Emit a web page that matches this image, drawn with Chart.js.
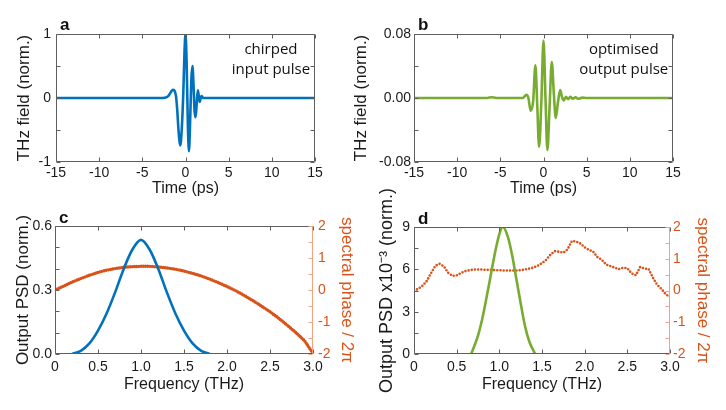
<!DOCTYPE html>
<html>
<head>
<meta charset="utf-8">
<script src="https://cdn.jsdelivr.net/npm/chart.js@4.4.1/dist/chart.umd.min.js"></script>
<style>
  html, body { margin: 0; padding: 0; background: #fff; }
  #wrap { position: relative; width: 726px; height: 410px; overflow: hidden; }
  canvas { position: absolute; }
</style>
</head>
<body>
<div id="wrap">
  <canvas id="panel-a" width="345" height="205" style="left:0;top:0"></canvas>
  <canvas id="panel-b" width="381" height="205" style="left:345px;top:0"></canvas>
  <canvas id="panel-c" width="363" height="205" style="left:0;top:205px"></canvas>
  <canvas id="panel-d" width="381" height="225" style="left:345px;top:185px"></canvas>
</div>
<script>
const FONT   = "'Liberation Sans', Arial, Helvetica, sans-serif";
const INK    = '#1a1a1a';
const BOX    = '#5e5e5e';
const BLUE   = '#0072BD';
const GREEN  = '#77AC30';
const ORANGE = '#D95319';
const ORANGE_AXIS = '#F2A27C';

// ── Data ───────────────────────────────────────────────────────────────────

// a: chirped input pulse
const timeA  = [-15, -3, -2.4, -2.0, -1.7, -1.45, -1.3, -1.1, -0.95, -0.8, -0.6, -0.42, -0.25, -0.12, 0,
                0.13, 0.27, 0.4, 0.55, 0.68, 0.8, 0.93, 1.05, 1.17, 1.3, 1.43, 1.55, 1.65, 1.77, 1.88, 2.05, 2.3, 15];
const fieldA = [0, 0, 0.005, 0.03, 0.09, 0.13, 0.12, 0.03, -0.2, -0.52, -0.74, -0.45, 0.1, 0.7, 1.0,
                0.55, -0.4, -0.83, -0.3, 0.3, 0.5, 0.2, -0.2, -0.3, -0.08, 0.12, 0.02, -0.06, 0.01, 0.03, 0, 0, 0];

// b: optimised output pulse
const timeB  = [-15, -6.5, -6, -5.5, -2.4, -1.98, -1.75, -1.48, -1.2, -0.94, -0.72, -0.51, -0.25, 0,
                0.23, 0.45, 0.7, 0.96, 1.2, 1.42, 1.68, 1.93, 2.15, 2.35, 2.6, 2.85, 3.1, 3.4, 3.7, 4.0, 4.5, 5, 15];
const fieldB = [0, 0, 0.001, 0, 0, 0.004, 0.0, -0.016, -0.004, 0.041, -0.01, -0.061, -0.005, 0.0717,
                0.0, -0.065, -0.012, 0.045, 0.005, -0.025, -0.005, 0.01, 0.001, -0.003, 0.0015, -0.0015, 0.0015, -0.001, 0.001, -0.001, 0.0005, 0, 0];

// c: input spectrum and phase
const freqC = [0.2, 0.3, 0.4, 0.5, 0.6, 0.7, 0.8, 0.9, 1.0, 1.1, 1.2, 1.3, 1.4, 1.5, 1.6, 1.7, 1.8];
const psdC  = [0, 0.015, 0.05, 0.11, 0.19, 0.29, 0.40, 0.49, 0.535, 0.49, 0.40, 0.29, 0.19, 0.11, 0.05, 0.015, 0];
const phaseFreqC = [0, 0.1, 0.2, 0.3, 0.4, 0.5, 0.6, 0.7, 0.8, 0.9, 1.0, 1.1, 1.2, 1.3, 1.4, 1.5,
                    1.6, 1.7, 1.8, 1.9, 2.0, 2.1, 2.2, 2.3, 2.4, 2.5, 2.6, 2.7, 2.8, 2.9, 3.0];
const phaseC = [0, 0.12, 0.25, 0.36, 0.46, 0.55, 0.62, 0.67, 0.71, 0.73, 0.74, 0.74, 0.72, 0.69, 0.65, 0.59,
                0.52, 0.44, 0.34, 0.23, 0.11, -0.02, -0.17, -0.33, -0.5, -0.68, -0.88, -1.1, -1.33, -1.58, -1.98];

// d: output spectrum and phase
const freqD = [0.67, 0.75, 0.8, 0.85, 0.9, 0.95, 1.0, 1.04, 1.1, 1.15, 1.2, 1.25, 1.3, 1.35, 1.42];
const psdD  = [0, 1.3, 2.5, 4.0, 5.6, 7.2, 8.5, 9.0, 8.3, 7.0, 5.3, 3.6, 2.0, 0.9, 0];
const phaseFreqD = [0, 0.05, 0.1, 0.15, 0.2, 0.25, 0.3, 0.35, 0.4, 0.45, 0.5, 0.55, 0.6, 0.65, 0.7, 0.75,
                    0.8, 0.85, 0.9, 0.95, 1.0, 1.05, 1.1, 1.15, 1.2, 1.25, 1.3, 1.35, 1.4, 1.45, 1.5, 1.55,
                    1.6, 1.65, 1.7, 1.75, 1.8, 1.85, 1.9, 1.95, 2.0, 2.05, 2.1, 2.15, 2.2, 2.25, 2.3, 2.35,
                    2.4, 2.45, 2.5, 2.55, 2.6, 2.65, 2.7, 2.75, 2.8, 2.85, 2.9, 2.95, 3.0];
const phaseD = [0, 0.05, 0.15, 0.3, 0.55, 0.78, 0.84, 0.76, 0.56, 0.46, 0.48, 0.55, 0.61, 0.64, 0.66, 0.66,
                0.66, 0.65, 0.65, 0.64, 0.64, 0.63, 0.63, 0.63, 0.63, 0.64, 0.66, 0.69, 0.72, 0.78, 0.86, 0.97,
                1.13, 1.24, 1.22, 1.19, 1.3, 1.56, 1.54, 1.48, 1.36, 1.28, 1.22, 1.05, 0.97, 0.82, 0.77, 0.72,
                0.67, 0.72, 0.7, 0.54, 0.48, 0.74, 0.69, 0.68, 0.4, 0.18, 0.05, -0.12, -0.2];

// ── Ticks ──────────────────────────────────────────────────────────────────

const timeTicks       = [-15, -10, -5, 0, 5, 10, 15];
const timeTickLabels  = ['-15', '-10', '-5', '0', '5', '10', '15'];
const fieldTicksA     = [-1, -0.5, 0, 0.5, 1];
const fieldLabelsA    = ['-1', '', '0', '', '1'];
const fieldTicksB     = [-0.08, -0.04, 0, 0.04, 0.08];
const fieldLabelsB    = ['-0.08', '', '0.00', '', '0.08'];
const freqTicks       = [0, 0.5, 1, 1.5, 2, 2.5, 3];
const freqTickLabels  = ['0', '0.5', '1.0', '1.5', '2.0', '2.5', '3.0'];
const psdTicksC       = [0, 0.1, 0.2, 0.3, 0.4, 0.5, 0.6];
const psdLabelsC      = ['0.0', '', '', '0.3', '', '', '0.6'];
const psdTicksD       = [0, 1.5, 3, 4.5, 6, 7.5, 9];
const psdLabelsD      = ['0', '', '3', '', '6', '', '9'];
const phaseTicks      = [-2, -1.5, -1, -0.5, 0, 0.5, 1, 1.5, 2];
const phaseTickLabels = ['-2', '', '-1', '', '0', '', '1', '', '2'];

// ── Helpers ────────────────────────────────────────────────────────────────

const pts = (xs, ys) => xs.map((x, i) => ({ x, y: ys[i] }));

function line(ctx, x1, y1, x2, y2) {
  ctx.beginPath(); ctx.moveTo(x1, y1); ctx.lineTo(x2, y2); ctx.stroke();
}

// box, inward ticks, panel letter and note
const deco = {
  id: 'deco',
  afterDatasetsDraw(chart, args, o) {
    const { ctx, chartArea: a, scales } = chart;
    const L = a.left + 0.5, R = a.right - 0.5, T = a.top + 0.5, B = a.bottom - 0.5;
    const len = 4;
    ctx.save();
    ctx.lineWidth = 1;
    ctx.strokeStyle = BOX;
    scales.x.ticks.forEach(t => {
      const p = Math.round(scales.x.getPixelForValue(t.value)) + 0.5;
      line(ctx, p, B, p, B - len);
      line(ctx, p, T, p, T + len);
    });
    scales.y.ticks.forEach(t => {
      const p = Math.round(scales.y.getPixelForValue(t.value)) + 0.5;
      line(ctx, L, p, L + len, p);
      if (!scales.y2) line(ctx, R, p, R - len, p);
    });
    line(ctx, L, T, R, T);
    line(ctx, L, B, R, B);
    line(ctx, L, T, L, B);
    if (scales.y2) {
      ctx.strokeStyle = ORANGE_AXIS;
      scales.y2.ticks.forEach(t => {
        const p = Math.round(scales.y2.getPixelForValue(t.value)) + 0.5;
        line(ctx, R, p, R - len, p);
      });
    }
    line(ctx, R, T, R, B);
    ctx.restore();
  },
  afterDraw(chart, args, o) {
    const { ctx, chartArea: a } = chart;
    ctx.save();
    ctx.fillStyle = '#111';
    ctx.font = `bold 17px ${FONT}`;
    ctx.textAlign = 'left';
    ctx.textBaseline = 'alphabetic';
    ctx.fillText(o.letter, a.left + 4, a.top - o.letterGap);
    if (o.note) {
      ctx.font = "15px 'Open Sans', sans-serif";
      ctx.textAlign = 'center';
      const cx = a.left + o.noteX * (a.right - a.left);
      o.note.forEach((s, i) => ctx.fillText(s, cx, a.top + 20 + i * 20));
    }
    ctx.restore();
  },
};

function yAxis(position, ticks, labels, color, title, geom) {
  return {
    type: 'linear', position,
    min: ticks[0], max: ticks[ticks.length - 1],
    afterBuildTicks: s => { s.ticks = ticks.map(v => ({ value: v })); },
    afterFit: s => { s.width = geom.width; },
    ticks: {
      autoSkip: false, padding: geom.pad, color,
      font: { family: FONT, size: 14 },
      callback: (v, i) => labels[i],
    },
    grid: { display: false, drawTicks: false },
    border: { display: false },
    title: {
      display: true, text: title, color,
      font: { family: FONT, size: geom.tsize || 17, lineHeight: 1 },
      padding: { top: geom.tpad, bottom: 0 },
    },
  };
}

function xAxis(ticks, labels, title, geom) {
  return {
    type: 'linear',
    min: ticks[0], max: ticks[ticks.length - 1],
    afterBuildTicks: s => { s.ticks = ticks.map(v => ({ value: v })); },
    afterFit: s => { s.height = geom.height; },
    ticks: {
      autoSkip: false, maxRotation: 0, padding: geom.pad, color: INK,
      font: { family: FONT, size: 14 },
      callback: (v, i) => labels[i],
    },
    grid: { display: false, drawTicks: false },
    border: { display: false },
    title: {
      display: true, text: title, color: INK,
      font: { family: FONT, size: 16, lineHeight: 1 },
      padding: { top: 0, bottom: geom.tpad },
    },
  };
}

function makeChart(id, datasets, scales, padding, decoOpts) {
  new Chart(document.getElementById(id), {
    type: 'line',
    data: { datasets },
    options: {
      responsive: false, animation: false, events: [],
      layout: { padding },
      plugins: { legend: { display: false }, tooltip: { enabled: false }, deco: decoOpts },
      scales,
    },
    plugins: [deco],
  });
}

const psdLine = (data, color, yAxisID) => ({
  data, borderColor: color, borderWidth: 2.6, pointRadius: 0,
  cubicInterpolationMode: 'monotone', fill: false, yAxisID,
});

const phaseDots = (data, width, gap) => ({
  data, borderColor: ORANGE, borderWidth: width, pointRadius: 0,
  borderDash: [0, gap], borderCapStyle: 'round', tension: 0, fill: false, yAxisID: 'y2',
});

// ── Panels ─────────────────────────────────────────────────────────────────

makeChart('panel-a',
  [psdLine(pts(timeA, fieldA), BLUE, 'y')],
  {
    x: xAxis(timeTicks, timeTickLabels, 'Time (ps)', { height: 43, pad: 3, tpad: 8 }),
    y: yAxis('left', fieldTicksA, fieldLabelsA, INK, 'THz field (norm.)', { width: 56, pad: 5, tpad: 15.5 }),
  },
  { left: 0, top: 34, right: 30, bottom: 0 },
  { letter: 'a', letterGap: 4, note: ['chirped', 'input pulse'], noteX: 0.83 });

makeChart('panel-b',
  [psdLine(pts(timeB, fieldB), GREEN, 'y')],
  {
    x: xAxis(timeTicks, timeTickLabels, 'Time (ps)', { height: 43, pad: 3, tpad: 8 }),
    y: yAxis('left', fieldTicksB, fieldLabelsB, INK, 'THz field (norm.)', { width: 69, pad: 3, tpad: 7.5 }),
  },
  { left: 0, top: 34, right: 53, bottom: 0 },
  { letter: 'b', letterGap: 4, note: ['optimised', 'output pulse'], noteX: 0.81 });

makeChart('panel-c',
  [psdLine(pts(freqC, psdC), BLUE, 'y'), phaseDots(pts(phaseFreqC, phaseC), 3.4, 2.2)],
  {
    x: xAxis(freqTicks, freqTickLabels, 'Frequency (THz)', { height: 56, pad: 5, tpad: 17 }),
    y: yAxis('left', psdTicksC, psdLabelsC, INK, 'Output PSD (norm.)', { width: 55, pad: 3, tpad: 14.5 }),
    y2: yAxis('right', phaseTicks, phaseTickLabels, ORANGE, 'spectral phase / 2π', { width: 50, pad: 5, tpad: 7.5 }),
  },
  { left: 0, top: 21, right: 0, bottom: 0 },
  { letter: 'c', letterGap: 3 });

makeChart('panel-d',
  [psdLine(pts(freqD, psdD), GREEN, 'y'), phaseDots(pts(phaseFreqD, phaseD), 2.6, 3.2)],
  {
    x: xAxis(freqTicks, freqTickLabels, 'Frequency (THz)', { height: 56, pad: 5, tpad: 17 }),
    y: yAxis('left', psdTicksD, psdLabelsD, INK, 'Output PSD x10\u207B\u00B3 (norm.)', { width: 69, pad: 4, tpad: 33, tsize: 18 }),
    y2: yAxis('right', phaseTicks, phaseTickLabels, ORANGE, 'spectral phase / 2π', { width: 56, pad: 3, tpad: 14.5 }),
  },
  { left: 0, top: 42, right: 0, bottom: 0 },
  { letter: 'd', letterGap: 3 });
</script>
</body>
</html>
